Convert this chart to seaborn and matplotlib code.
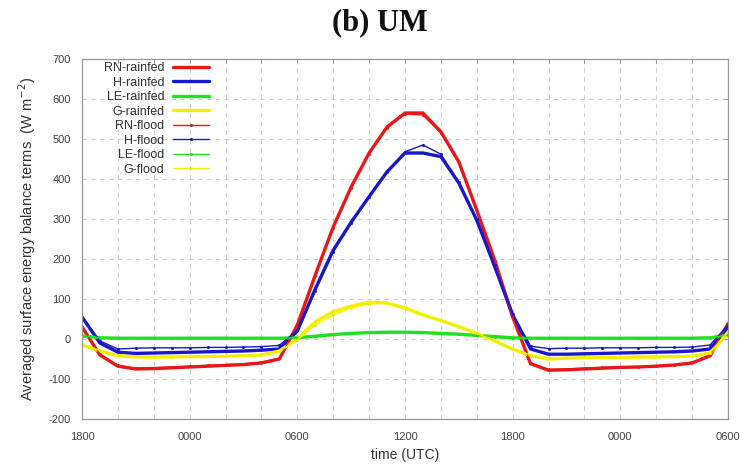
import numpy as np
import pandas as pd
import matplotlib
matplotlib.use("Agg")
import matplotlib.pyplot as plt
import seaborn as sns

# hours since 0000 UTC of day 1 (18 -> 1800, 54 -> 0600 two days later)
hours = list(range(18, 55))

rn_rainfed = [30, -40, -68, -75, -74, -72, -70, -68, -66, -64, -60, -50, 35, 160, 280, 380,
              465, 530, 565, 565, 518, 443, 322, 197, 55, -62, -78, -77, -75, -73, -71, -70,
              -68, -65, -60, -42, 38]
h_rainfed = [55, -10, -33, -36, -35, -34, -33, -32, -31, -30, -28, -25, 20, 125, 222, 292,
             356, 418, 465, 465, 456, 390, 297, 181, 60, -25, -38, -38, -37, -36, -35, -34,
             -33, -32, -30, -25, 30]
le_rainfed = [8, 3, 2, 2, 2, 2, 2, 2, 2, 2, 2, 2, 3, 7, 11, 14, 16, 17, 17, 16, 14, 12, 9, 6,
              3, 2, 2, 2, 2, 2, 2, 2, 2, 2, 2, 3, 10]
g_rainfed = [-15, -30, -42, -45, -45, -45, -44, -44, -43, -42, -40, -30, 0, 43, 68, 82, 92, 90,
             77, 60, 46, 31, 14, -5, -25, -42, -50, -48, -47, -46, -46, -45, -45, -44, -43,
             -35, 15]

rn_flood = [30, -38, -66, -73, -72, -70, -68, -66, -64, -62, -58, -48, 33, 158, 278, 378,
            463, 528, 562, 560, 515, 440, 320, 195, 55, -60, -76, -75, -73, -71, -70, -69,
            -67, -64, -58, -40, 40]
h_flood = [55, -5, -25, -23, -22, -22, -22, -21, -21, -20, -19, -16, 22, 120, 218, 290,
           355, 418, 468, 485, 462, 392, 300, 185, 62, -18, -24, -23, -23, -22, -22, -22,
           -21, -21, -20, -15, 35]
le_flood = [8, 3, 2, 2, 2, 2, 2, 2, 2, 2, 2, 2, 3, 8, 12, 15, 17, 18, 18, 17, 15, 12, 9, 6,
            3, 2, 2, 2, 2, 2, 2, 2, 2, 2, 2, 3, 10]
g_flood = [-15, -28, -40, -43, -44, -44, -43, -43, -42, -41, -39, -30, -2, 35, 60, 78, 88, 90,
           80, 62, 47, 31, 14, -5, -25, -40, -48, -47, -46, -45, -45, -44, -44, -43, -42,
           -34, 18]

tick_hours = [18, 24, 30, 36, 42, 48, 54]
tick_labels = ["1800", "0000", "0600", "1200", "1800", "0000", "0600"]

RED, BLUE, GREEN, YELLOW = "#e81818", "#1818c8", "#22e022", "#f2f000"

sns.set_theme(style="white")
plt.rcParams["font.family"] = ["Liberation Sans", "DejaVu Sans"]
plt.rcParams["axes.unicode_minus"] = False

fig = plt.figure(figsize=(7.44, 4.69), dpi=100)
ax = fig.add_axes([82 / 744, 1 - 419 / 469, (728 - 82) / 744, (419 - 59) / 469])

rainfed = [("RN-rainfed", rn_rainfed, RED), ("H-rainfed", h_rainfed, BLUE),
           ("LE-rainfed", le_rainfed, GREEN), ("G-rainfed", g_rainfed, YELLOW)]
flood = [("RN-flood", rn_flood, RED), ("H-flood", h_flood, BLUE),
         ("LE-flood", le_flood, GREEN), ("G-flood", g_flood, YELLOW)]

for name, vals, col in rainfed:
    df = pd.DataFrame({"t": hours, "v": vals})
    sns.lineplot(data=df, x="t", y="v", ax=ax, color=col, lw=2.4, label=name, sort=False)
for name, vals, col in flood:
    df = pd.DataFrame({"t": hours, "v": vals})
    sns.lineplot(data=df, x="t", y="v", ax=ax, color=col, lw=1.0, marker="o",
                 markersize=2.2, markeredgewidth=0, label=name, sort=False)

ax.set_xlim(18, 54)
ax.set_ylim(-200, 700)
ax.set_xticks(list(range(18, 55, 2)))
ax.set_xticklabels([tick_labels[tick_hours.index(h)] if h in tick_hours else "" for h in range(18, 55, 2)])
ax.set_yticks(list(range(-200, 701, 100)))
ax.grid(True, color="#cfcfcf", linestyle=(0, (4, 4)), linewidth=0.8)
for s in ax.spines.values():
    s.set_color("#999999")
    s.set_linewidth(0.9)
ax.tick_params(axis="both", direction="in", length=3, width=0.6, color="#888888",
               labelsize=8, labelcolor="#444444", top=True, right=True)
ax.tick_params(axis="x", pad=9)
ax.tick_params(axis="y", pad=8)

ax.set_xlabel("time (UTC)", fontsize=10, color="#333333", labelpad=5)
ax.set_ylabel("Averaged surface energy balance terms  (W m$^{-2}$)", fontsize=10.5,
              color="#333333", labelpad=8)

leg = ax.legend(loc="upper left", bbox_to_anchor=(0.02, 1.015), frameon=False,
                markerfirst=False, fontsize=9, labelspacing=0.2, handlelength=2.9,
                handletextpad=0.7, borderaxespad=0.3)
for t in leg.get_texts():
    t.set_color("#333333")

fig.text(0.511, 0.952, "(b) UM", ha="center", va="center", fontsize=22,
         fontweight="bold", family="Liberation Serif", color="#111111")

fig.savefig("out.png", dpi=100)
